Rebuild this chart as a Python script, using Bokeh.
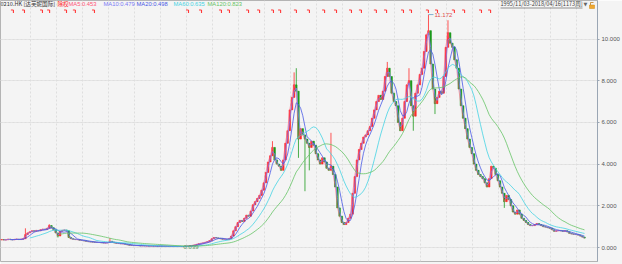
import numpy as np
import pandas as pd
from bokeh.plotting import figure
from bokeh.models import Range1d, LinearAxis, FixedTicker, NumeralTickFormatter, ColumnDataSource, Grid
from bokeh.embed import file_html
from bokeh.resources import INLINE
from bokeh.core.properties import value

# ---------------- data (monthly; Nov 1995 .. Apr 2018) ----------------
closes = [
    0.38, 0.36, 0.37, 0.40, 0.38, 0.37, 0.39, 0.40, 0.38, 0.40,   # 0-9
    0.42, 0.62, 0.70, 0.75, 0.80, 0.78, 0.82, 0.80, 0.85, 0.88,   # 10-19
    0.86, 0.92, 1.05, 0.95, 0.85, 0.70, 0.55, 0.78, 0.82, 0.84,   # 20-29
    0.80, 0.48, 0.42, 0.40, 0.38, 0.38, 0.35, 0.34, 0.32, 0.30,   # 30-39
    0.28, 0.27, 0.26, 0.25, 0.24, 0.24, 0.23, 0.22, 0.22, 0.24,   # 40-49
    0.30, 0.26, 0.22, 0.20, 0.19, 0.18, 0.18, 0.16, 0.13, 0.11,   # 50-59
    0.10, 0.09, 0.10, 0.09, 0.08, 0.09, 0.08, 0.08, 0.07, 0.08,   # 60-69
    0.07, 0.07, 0.06, 0.07, 0.06, 0.06, 0.06, 0.05, 0.06, 0.05,   # 70-79
    0.05, 0.05, 0.05, 0.05, 0.04, 0.06, 0.07, 0.08, 0.10, 0.12,   # 80-89
    0.15, 0.18, 0.20, 0.22, 0.25, 0.28, 0.33, 0.42, 0.48, 0.46,   # 90-99
    0.44, 0.42, 0.40, 0.40, 0.38, 0.42, 0.55, 0.80, 1.00, 1.20,   # 100-109
    1.30, 1.25, 1.40, 1.55, 1.50, 1.75, 2.05, 2.20, 2.35, 2.50,   # 110-119
    2.75, 3.10, 3.60, 4.10, 4.40, 4.80, 4.20, 4.00, 3.90, 3.70,   # 120-129
    4.20, 5.00, 5.60, 6.60, 7.20, 7.80, 7.50, 5.20, 5.70, 5.40,   # 130-139
    5.20, 5.00, 4.80, 5.10, 4.90, 4.50, 4.20, 4.00, 4.30, 4.10,   # 140-149
    3.80, 3.70, 3.90, 3.50, 2.90, 1.90, 1.50, 1.20, 1.10, 1.20,   # 150-159
    1.40, 1.60, 2.60, 3.40, 4.20, 4.70, 5.00, 5.30, 5.40, 5.60,   # 160-169
    5.80, 6.20, 6.60, 7.00, 7.30, 7.10, 7.50, 8.20, 8.60, 8.20,   # 170-179
    7.40, 7.00, 6.80, 6.00, 5.60, 6.20, 7.00, 7.80, 8.00, 6.80,   # 180-189
    6.30, 7.40, 7.80, 8.30, 8.60, 9.40, 10.20, 10.40, 8.80, 7.60, # 190-199
    6.90, 7.20, 7.50, 7.40, 8.20, 9.60, 10.30, 9.80, 9.60, 9.00,  # 200-209
    8.60, 7.60, 6.80, 6.20, 5.70, 5.20, 4.80, 4.50, 4.00, 3.70,   # 210-219
    3.50, 3.40, 3.30, 3.10, 2.90, 3.30, 3.90, 3.80, 3.50, 3.20,   # 220-229
    2.90, 2.60, 2.20, 2.50, 2.30, 2.00, 1.70, 1.60, 1.80, 1.60,   # 230-239
    1.40, 1.30, 1.20, 1.10, 1.05, 1.05, 1.10, 1.15, 1.10, 1.05,   # 240-249
    1.00, 0.98, 0.95, 0.92, 0.85, 0.78, 0.80, 0.82, 0.80, 0.78,   # 250-259
    0.80, 0.75, 0.68, 0.65, 0.64, 0.62, 0.60, 0.55, 0.50, 0.45,   # 260-269
]
first_open = 0.36
high_spike_idx = [11, 22, 50, 125, 135, 136, 152, 178, 188, 197, 206]
high_spike_val = [0.92, 1.12, 0.45, 5.10, 8.40, 8.60, 5.50, 8.90, 8.60, 11.172, 10.90]
low_spike_idx = [26, 84, 137, 140, 142, 190, 200, 232]
low_spike_val = [0.48, 0.039, 4.30, 2.70, 3.70, 5.60, 6.40, 1.90]

event_idx = [5.0, 10.1, 18.4, 21.7, 29.5, 33.6, 42.4, 85.8, 91.8, 101.0, 104.7, 113.5,
             118.6, 125.0, 128.3, 135.6, 141.6, 148.6, 154.1, 161.0, 165.6, 172.5, 177.2,
             185.0, 188.7, 196.5, 200.7, 208.5, 213.2, 221.0, 225.2]
year_start_idx = [14 + 12 * k for k in range(22)]   # Jan 1997 .. Jan 2018

ma_names = ["MA5", "MA10", "MA20", "MA60", "MA120"]
ma_weeks = [5, 10, 20, 60, 120]
ma_last = ["0.453", "0.479", "0.498", "0.635", "0.823"]
ma_colors = ["#ff5577", "#7a7af5", "#4a5ae6", "#45d3e3", "#66c466"]
y_ticks = [0, 2, 4, 6, 8, 10]
title_text = "0210.HK [达芙妮国际]"
adj_text = "除权"
range_text = "1995/11/03-2018/04/16[1173周]"

# ---------------- geometry helpers (pixel -> data) ----------------
FW, FH = 597, 261
XS = FW / 275.5          # px per month
YS = 20.85               # px per 1.0 price
Y0 = 247                 # pixel row of price 0


def X(px):
    return px / XS - 0.5


def Y(py):
    return (Y0 - py) / YS


n = len(closes)
idx = np.arange(n)
c = np.array(closes)
o = np.concatenate([[first_open], c[:-1]])
hi = np.maximum(o, c)
lo = np.minimum(o, c)
for i, v in zip(high_spike_idx, high_spike_val):
    hi[i] = max(hi[i], v)
for i, v in zip(low_spike_idx, low_spike_val):
    lo[i] = min(lo[i], v)
up = c >= o
col = np.where(up, "#ff2a2a", "#1d9a1d")

src = ColumnDataSource(dict(x=idx, o=o, c=c, hi=hi, lo=lo, col=col,
                            top=np.maximum(o, c), bot=np.minimum(o, c)))

p = figure(width=622, height=264, x_range=Range1d(X(0), X(FW)), y_range=Range1d(Y(FH), Y(0)),
           output_backend="svg", toolbar_location=None, x_axis_type=None, y_axis_location=None,
           min_border_left=0, min_border_right=25, min_border_top=0, min_border_bottom=3,
           background_fill_color="#f4f4f4", border_fill_color="#f4f4f4")
p.outline_line_color = "#b4b4b4"

p.add_layout(Grid(dimension=1, ticker=FixedTicker(ticks=y_ticks), grid_line_color="#dedede",
                  grid_line_dash="2 2"))
p.add_layout(Grid(dimension=0, ticker=FixedTicker(ticks=[v - 0.5 for v in year_start_idx]),
                  grid_line_color="#dedede", grid_line_dash="2 2"))

ax = LinearAxis(ticker=FixedTicker(ticks=y_ticks), formatter=NumeralTickFormatter(format="0.000"))
ax.major_tick_out = 2
ax.major_tick_in = 0
ax.minor_tick_line_color = None
ax.major_label_standoff = 2
ax.axis_line_color = "#9aa6b4"
ax.major_tick_line_color = "#9aa6b4"
ax.major_label_text_font = "Liberation Sans"
ax.major_label_text_font_size = "6px"
ax.major_label_text_color = "#555555"
p.add_layout(ax, "right")

# candles
p.segment(x0="x", y0="lo", x1="x", y1="hi", color="col", line_width=0.8, source=src)
p.vbar(x="x", width=0.75, top="top", bottom="bot", fill_color="col", line_color="col",
       line_width=0.5, source=src)

# moving averages
s = pd.Series(closes)
for name, w, colr in zip(ma_names, ma_weeks, ma_colors):
    win = max(1, int(round(w / 4.345)))
    ma = s.rolling(win).mean().to_numpy()
    p.line(idx, ma, line_color=colr, line_width=1, line_alpha=0.8 if win > 1 else 0.55)

# event markers (small red flags)
ex = np.array(event_idx)
dx = 1 / XS
p.segment(x0=ex - 1.5 * dx, y0=[Y(9.5)] * len(ex), x1=ex + 1.0 * dx, y1=[Y(9.5)] * len(ex),
          line_color="#ff3a3a", line_width=1.1)
p.segment(x0=ex + 1.0 * dx, y0=[Y(9.5)] * len(ex), x1=ex + 1.0 * dx, y1=[Y(12.5)] * len(ex),
          line_color="#ff3a3a", line_width=1.1)

# max / min annotations
imax = int(np.argmax(hi))
imin = int(np.argmin(lo))
p.segment(x0=[imax], y0=[hi[imax]], x1=[imax + 5 * dx], y1=[hi[imax]], line_color="#7fb0d0", line_width=1)
p.text(x=[imax + 6 * dx], y=[hi[imax]], text=[f"{hi[imax]:.3f}"], text_font=value("Liberation Sans"),
       text_font_size=value("6px"), text_color="#e04a4a", text_baseline="middle", text_align="left")
p.text(x=[imin], y=[lo[imin]], text=[f"{lo[imin]:.3f}"], text_font=value("Liberation Sans"),
       text_font_size=value("6px"), text_color="#5f9a5f", text_baseline="middle", text_align="left")

# header texts
ty = Y(3.8)
p.text(x=[X(0)], y=[ty], text=[title_text], text_font=value("Noto Sans CJK SC"),
       text_font_size=value("5.6px"), text_color="#333333", text_baseline="middle", text_align="left")
p.text(x=[X(57)], y=[ty], text=[adj_text], text_font=value("Noto Sans CJK SC"),
       text_font_size=value("5.6px"), text_color="#ff2020", text_baseline="middle", text_align="left")
ma_x = [68, 103, 136, 173, 207]
for xx, name, val, colr in zip(ma_x, ma_names, ma_last, ma_colors):
    p.text(x=[X(xx)], y=[ty], text=[f"{name}:{val}"], text_font=value("Liberation Sans"),
           text_font_size=value("5.8px"), text_color=colr, text_baseline="middle", text_align="left")

p.text(x=[X(500)], y=[ty], text=[range_text], text_font=value("Noto Sans CJK SC"),
       text_font_size=value("5.6px"), text_color="#444444", text_baseline="middle", text_align="left")
p.segment(x0=[X(500)], y0=[Y(7.5)], x1=[X(582)], y1=[Y(7.5)], line_color="#666666", line_width=0.7)
p.text(x=[X(583)], y=[ty], text=["▼"], text_font=value("DejaVu Sans"),
       text_font_size=value("5px"), text_color="#666666", text_baseline="middle", text_align="left")
p.quad(left=[X(589)], right=[X(594)], bottom=[Y(8)], top=[Y(4.5)], fill_color="#f0a830", line_color="#d08a10",
       line_width=0.5)
p.segment(x0=[X(590)], y0=[Y(4.5)], x1=[X(590)], y1=[Y(2)], line_color="#c08020", line_width=0.8)
p.segment(x0=[X(590)], y0=[Y(2)], x1=[X(593)], y1=[Y(2)], line_color="#c08020", line_width=0.8)

open("out.html", "w").write(file_html(p, INLINE))
